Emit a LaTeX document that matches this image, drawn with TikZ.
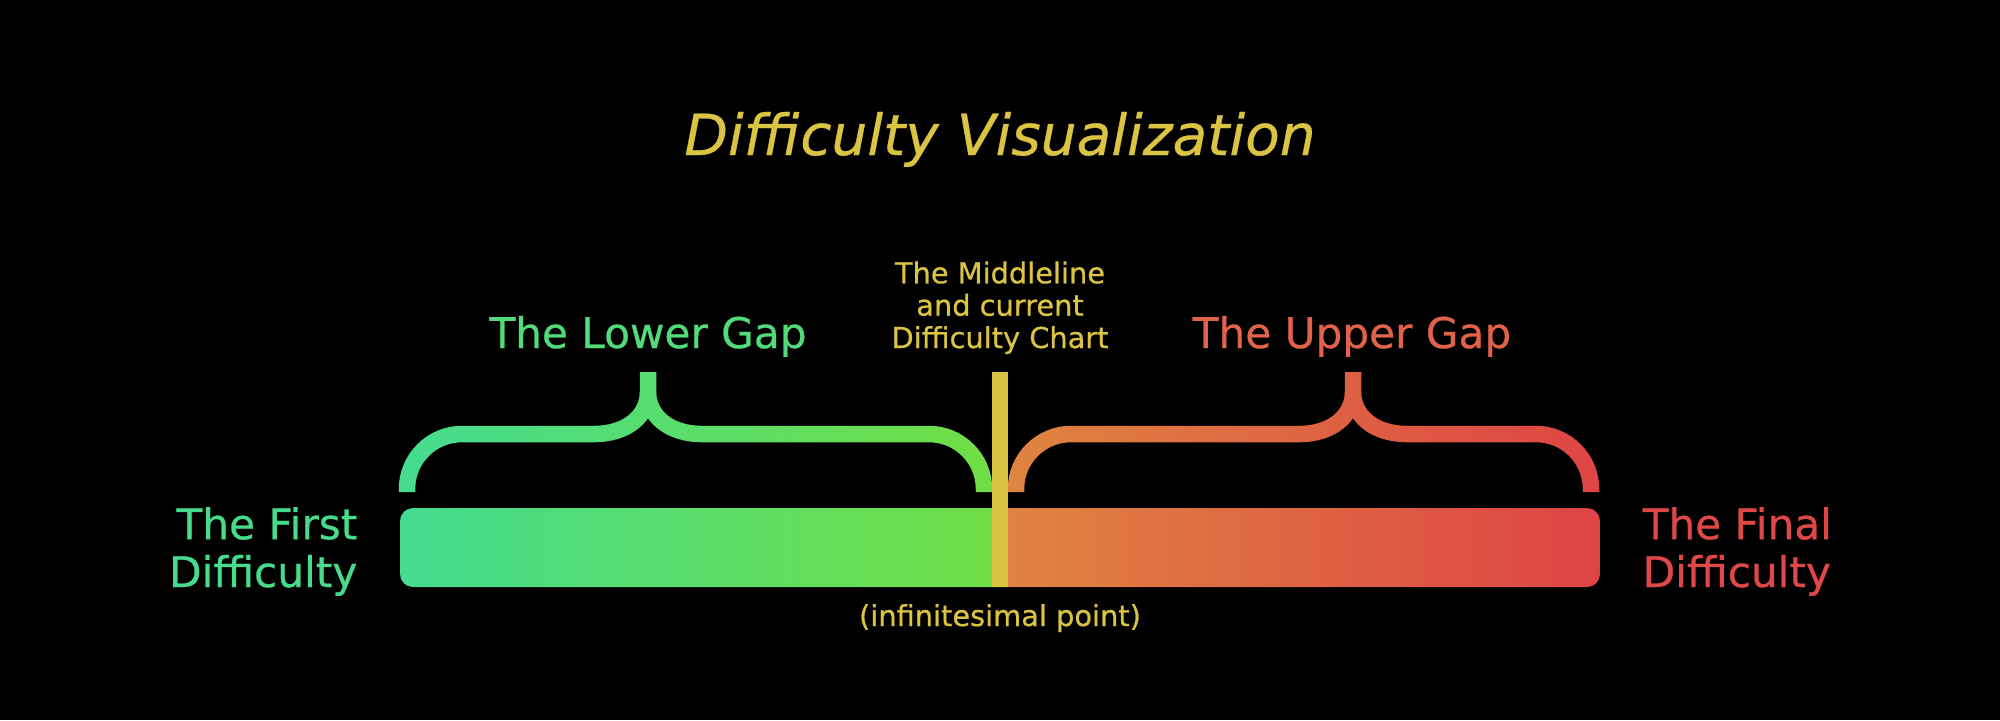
\documentclass[tikz,border=0pt]{standalone}
\usepackage{fontspec}
\setmainfont{DejaVu Sans}[FakeBold=0.6]
\usepackage{tikz}
\usepackage{xcolor}
\usetikzlibrary{positioning}
\definecolor{diffYellow}{HTML}{DCC443}
\definecolor{diffTeal}{HTML}{45DC90}
\definecolor{diffLime}{HTML}{70DE44}
\definecolor{diffOrange}{HTML}{DF8441}
\definecolor{diffRed}{HTML}{DE4444}
\definecolor{gapGreen}{HTML}{52DB7A}
\definecolor{gapRed}{HTML}{E2634A}
\definecolor{firstGreen}{HTML}{46DC8C}
\definecolor{finalRed}{HTML}{E04848}

\begin{document}
\begin{tikzpicture}[x=0.01cm,y=-0.01cm,inner sep=0pt,
    brace/.style={white,line width=1.65mm,line cap=butt},
    gaplabel/.style={font=\fontsize{12}{14}\selectfont,anchor=base},
    sidelabel/.style={font=\fontsize{12}{13.6}\selectfont},
    notelabel/.style={font=\fontsize{8.2}{9.2}\selectfont,text=diffYellow}]
    \fill[black] (0,0) rectangle (2000,720);

    \node[font=\fontsize{16.1}{19}\selectfont\itshape,text=diffYellow,anchor=base]
      (title) at (1000,155) {Difficulty Visualization};

    % the bar
    \begin{scope}
      \clip[rounded corners=1.3mm] (400,508) rectangle (1600,587);
      \shade[left color=diffTeal,right color=diffLime] (400,508) rectangle (1000,587);
      \shade[left color=diffOrange,right color=diffRed] (1000,508) rectangle (1600,587);
    \end{scope}

    % braces in white, coloured by a multiplied shade on the black ground
    \draw[brace,rounded corners=5.5mm] (407,492) |- (594,434);
    \draw[brace] (594,434) .. controls (628,434) and (648,415) .. (648,392) -- (648,372);
    \draw[brace] (648,392) .. controls (648,415) and (668,434) .. (702,434);
    \draw[brace,rounded corners=5.5mm] (702,434) -| (984,492);
    \shade[blend mode=multiply,left color=diffTeal,right color=diffLime]
      (398,368) rectangle (992,494);

    \draw[brace,rounded corners=5.5mm] (1016,492) |- (1299,434);
    \draw[brace] (1299,434) .. controls (1333,434) and (1353,415) .. (1353,392) -- (1353,372);
    \draw[brace] (1353,392) .. controls (1353,415) and (1373,434) .. (1407,434);
    \draw[brace,rounded corners=5.5mm] (1407,434) -| (1591,492);
    \shade[blend mode=multiply,left color=diffOrange,right color=diffRed]
      (1008,368) rectangle (1601,494);

    \fill[diffYellow] (992,372) rectangle (1008,587);

    \node[gaplabel,text=gapGreen] (lowergap) at (648,348) {The Lower Gap};
    \node[gaplabel,text=gapRed] (uppergap) at (1352,348) {The Upper Gap};
    \node[notelabel,align=center,anchor=base] (middleline) at (1000,348)
      {The Middleline\\and current\\Difficulty Chart};
    \node[notelabel,anchor=base] (infpoint) at (1000,626) {(infinitesimal point)};

    \node[sidelabel,text=firstGreen,align=right,anchor=base east] (first) at (358,587)
      {The First\\Difficulty};
    \node[sidelabel,text=finalRed,align=left,anchor=base west] (final) at (1642,587)
      {The Final\\Difficulty};
  \end{tikzpicture}
\end{document}
